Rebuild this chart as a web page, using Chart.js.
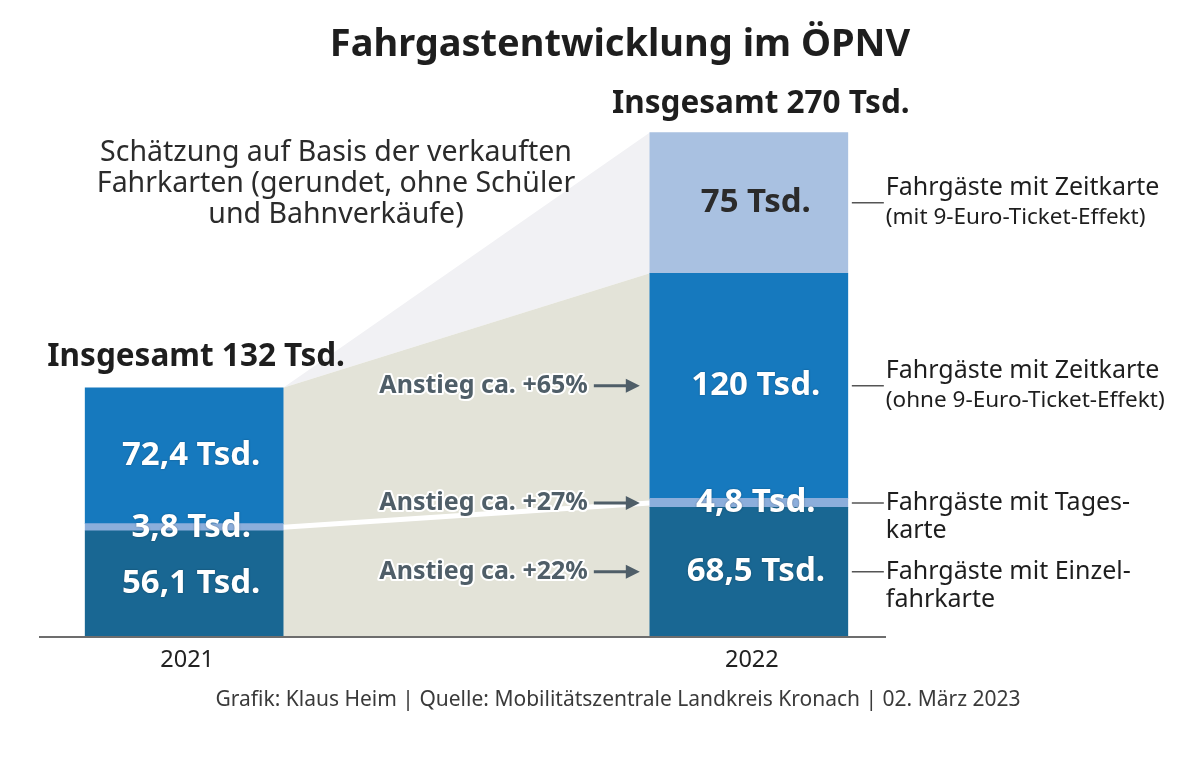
<!DOCTYPE html>
<html lang="de">
<head>
<meta charset="utf-8">
<title>Fahrgastentwicklung im ÖPNV</title>
<script src="https://cdn.jsdelivr.net/npm/chart.js@4/dist/chart.umd.min.js"></script>
<style>
  html, body { margin: 0; padding: 0; background: #fff; }
  #wrap { width: 1200px; height: 768px; position: relative; }
</style>
</head>
<body>
<div id="wrap"><canvas id="oepnvChart"></canvas></div>
<script>
// values in thousand passengers
const years = ['2021', '2022'];
const einzelkarte = [56.1, 68.5];
const tageskarte = [3.8, 4.8];
const zeitkarteOhne = [72.4, 120];
const zeitkarteMit = [null, 75];
const totals = [132, 270];
const anstieg = [22, 27, 65]; // Einzel, Tages, Zeitkarte

const seriesNames = [
  ['Fahrgäste mit Einzel-', 'fahrkarte'],
  ['Fahrgäste mit Tages-', 'karte'],
  ['Fahrgäste mit Zeitkarte', '(ohne 9-Euro-Ticket-Effekt)'],
  ['Fahrgäste mit Zeitkarte', '(mit 9-Euro-Ticket-Effekt)']
];
const seriesColors = ['#196793', '#8caedb', '#1679be', '#a9c1e1'];
const labelColors = ['#ffffff', '#ffffff', '#ffffff', '#2b2b2b'];

const FONT = '"Noto Sans", "Open Sans", sans-serif';

function fmt(v) {
  return String(v).replace('.', ',') + ' Tsd.';
}

function toPoints(arr) {
  return arr.map((v, i) => ({ x: i, y: v }));
}

const allSeries = [einzelkarte, tageskarte, zeitkarteOhne, zeitkarteMit];

const decorPlugin = {
  id: 'decor',
  beforeDatasetsDraw(chart) {
    const { ctx, scales: { x, y } } = chart;
    const half = chart.getDatasetMeta(0).data[0].width / 2;
    const xL = x.getPixelForValue(0) + half;
    const xR = x.getPixelForValue(1) - half;
    const sum = (i, n) => allSeries.slice(0, n).reduce((a, s) => a + (s[i] || 0), 0);
    ctx.save();
    // pale wedge up to the new total
    ctx.fillStyle = '#f1f1f4';
    ctx.beginPath();
    ctx.moveTo(xL, y.getPixelForValue(sum(0, 4)));
    ctx.lineTo(xR, y.getPixelForValue(sum(1, 4)));
    ctx.lineTo(xR, y.getPixelForValue(sum(1, 3)));
    ctx.closePath();
    ctx.fill();
    // beige area between comparable parts
    ctx.fillStyle = '#e3e3d8';
    ctx.beginPath();
    ctx.moveTo(xL, y.getPixelForValue(sum(0, 3)));
    ctx.lineTo(xR, y.getPixelForValue(sum(1, 3)));
    ctx.lineTo(xR, y.getPixelForValue(0));
    ctx.lineTo(xL, y.getPixelForValue(0));
    ctx.closePath();
    ctx.fill();
    // white connector of the day-ticket band
    ctx.strokeStyle = '#ffffff';
    ctx.lineWidth = 5;
    ctx.beginPath();
    ctx.moveTo(xL, y.getPixelForValue(sum(0, 1) + tageskarte[0] / 2));
    ctx.lineTo(xR, y.getPixelForValue(sum(1, 1) + tageskarte[1] / 2));
    ctx.stroke();
    ctx.restore();
  },
  afterDatasetsDraw(chart) {
    const { ctx, scales: { x, y } } = chart;
    const half = chart.getDatasetMeta(0).data[0].width / 2;
    const base = y.getPixelForValue(0);
    const sum = (i, n) => allSeries.slice(0, n).reduce((a, s) => a + (s[i] || 0), 0);
    const mid = (i, n) => y.getPixelForValue(sum(i, n) + (allSeries[n][i] || 0) / 2);
    ctx.save();
    ctx.textBaseline = 'middle';

    // baseline
    ctx.strokeStyle = '#6d6d6d';
    ctx.lineWidth = 2;
    ctx.beginPath();
    ctx.moveTo(x.left - 4, base + 1);
    ctx.lineTo(x.right - 4, base + 1);
    ctx.stroke();

    // year labels
    ctx.fillStyle = '#222';
    ctx.font = '23.5px ' + FONT;
    ctx.textAlign = 'center';
    years.forEach((yr, i) => ctx.fillText(yr, x.getPixelForValue(i) + 3, base + 24));

    // segment value labels
    ctx.font = 'bold 33px ' + FONT;
    allSeries.forEach((s, n) => {
      s.forEach((v, i) => {
        if (v == null) return;
        const cx = x.getPixelForValue(i) + 7;
        const cy = mid(i, n);
        ctx.fillStyle = labelColors[n];
        ctx.shadowColor = n === 3 ? 'transparent' : 'rgba(0,0,0,0.35)';
        ctx.shadowBlur = 2;
        ctx.fillText(fmt(v), cx, cy);
      });
    });
    ctx.shadowColor = 'transparent';

    // totals
    ctx.fillStyle = '#1e1e1e';
    ctx.font = 'bold 31.5px ' + FONT;
    ctx.textAlign = 'center';
    ctx.fillText('Insgesamt ' + totals[0] + ' Tsd.', x.getPixelForValue(0) + 12, y.getPixelForValue(sum(0, 4)) - 31);
    ctx.fillText('Insgesamt ' + totals[1] + ' Tsd.', x.getPixelForValue(1) + 12, y.getPixelForValue(sum(1, 4)) - 28);

    // increase labels with arrows
    const xR = x.getPixelForValue(1) - half;
    ctx.font = 'bold 25px ' + FONT;
    ctx.textAlign = 'right';
    anstieg.forEach((p, n) => {
      const cy = mid(1, n);
      const txt = 'Anstieg ca. +' + p + '%';
      ctx.lineJoin = 'round';
      ctx.strokeStyle = '#ffffff';
      ctx.lineWidth = 4;
      ctx.strokeText(txt, xR - 62, cy);
      ctx.fillStyle = '#4f5e68';
      ctx.fillText(txt, xR - 62, cy);
      ctx.strokeStyle = '#4f5e68';
      ctx.lineWidth = 3;
      ctx.beginPath();
      ctx.moveTo(xR - 56, cy);
      ctx.lineTo(xR - 22, cy);
      ctx.stroke();
      ctx.fillStyle = '#4f5e68';
      ctx.beginPath();
      ctx.moveTo(xR - 10, cy);
      ctx.lineTo(xR - 24, cy - 7);
      ctx.lineTo(xR - 24, cy + 7);
      ctx.closePath();
      ctx.fill();
    });

    // series labels on the right
    const xE = x.getPixelForValue(1) + half;
    ctx.textAlign = 'left';
    allSeries.forEach((s, n) => {
      const cy = mid(1, n);
      ctx.strokeStyle = '#555';
      ctx.lineWidth = 1.5;
      ctx.beginPath();
      ctx.moveTo(xE + 4, cy);
      ctx.lineTo(xE + 36, cy);
      ctx.stroke();
      ctx.fillStyle = '#1e1e1e';
      const twoPart = n >= 2;
      ctx.font = '25px ' + FONT;
      ctx.fillText(seriesNames[n][0], xE + 38, cy - (twoPart ? 15 : 0));
      ctx.font = (twoPart ? '22.5px ' : '25px ') + FONT;
      ctx.fillText(seriesNames[n][1], xE + 38, cy + (twoPart ? 15 : 28));
    });

    // note
    ctx.fillStyle = '#2b2b2b';
    ctx.font = '28.5px ' + FONT;
    ctx.textAlign = 'center';
    ['Schätzung auf Basis der verkauften', 'Fahrkarten (gerundet, ohne Schüler', 'und Bahnverkäufe)']
      .forEach((t, k) => ctx.fillText(t, 336, 153 + k * 31));

    // title and source
    ctx.fillStyle = '#1e1e1e';
    ctx.font = 'bold 38px ' + FONT;
    ctx.fillText('Fahrgastentwicklung im ÖPNV', 620, 45);
    ctx.fillStyle = '#3a3a3a';
    ctx.font = '21px ' + FONT;
    ctx.fillText('Grafik: Klaus Heim | Quelle: Mobilitätszentrale Landkreis Kronach | 02. März 2023', 618, 700);
    ctx.restore();
  }
};

new Chart(document.getElementById('oepnvChart'), {
  type: 'bar',
  data: {
    datasets: allSeries.map((s, n) => ({
      label: seriesNames[n].join(' '),
      data: toPoints(s),
      backgroundColor: seriesColors[n],
      borderWidth: 0,
      barThickness: 198
    }))
  },
  options: {
    responsive: true,
    maintainAspectRatio: false,
    animation: false,
    layout: { padding: { left: 43, right: 310, top: 73, bottom: 132 } },
    scales: {
      x: { type: 'linear', stacked: true, offset: false, min: -0.25, max: 1.25, display: false },
      y: { stacked: true, min: 0, max: 300, display: false }
    },
    plugins: {
      legend: { display: false },
      tooltip: { enabled: false }
    }
  },
  plugins: [decorPlugin]
});
</script>
</body>
</html>
